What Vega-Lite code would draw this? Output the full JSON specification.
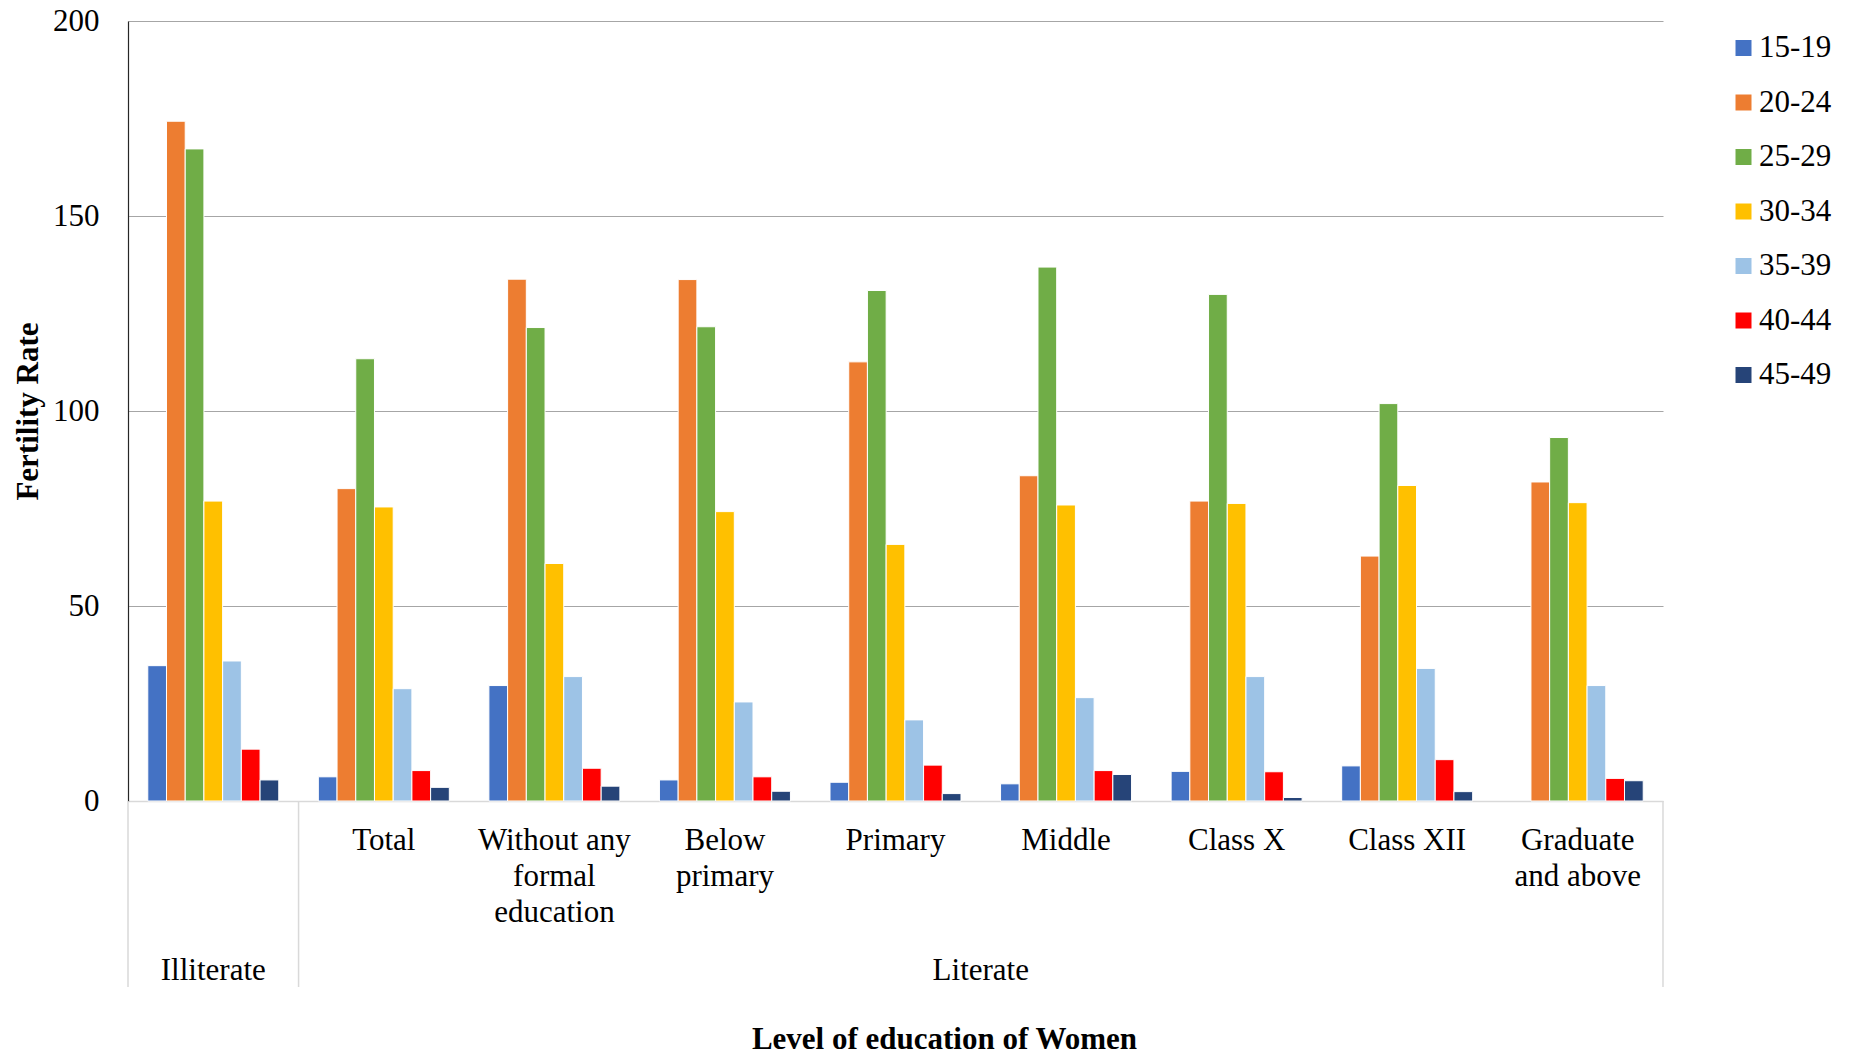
{
  "$schema": "https://vega.github.io/schema/vega-lite/v6.json",
  "width": 1535,
  "height": 780,
  "autosize": {"type": "none"},
  "padding": {"left": 128, "top": 21, "right": 192, "bottom": 253},
  "background": "white",
  "config": {
    "view": {"stroke": null},
    "font": "Liberation Serif",
    "legend": {"labelFont": "Liberation Serif", "labelFontSize": 31, "labelColor": "black"},
    "axis": {"labelFont": "Liberation Serif", "titleFont": "Liberation Serif"}
  },
  "layer": [
    {
      "data": {
        "values": [
          {"edu": "Illiterate", "age": "15-19", "rate": 34.7},
          {"edu": "Illiterate", "age": "20-24", "rate": 174.3},
          {"edu": "Illiterate", "age": "25-29", "rate": 167.2},
          {"edu": "Illiterate", "age": "30-34", "rate": 76.9},
          {"edu": "Illiterate", "age": "35-39", "rate": 35.9},
          {"edu": "Illiterate", "age": "40-44", "rate": 13.3},
          {"edu": "Illiterate", "age": "45-49", "rate": 5.4},
          {"edu": "Total", "age": "15-19", "rate": 6.2},
          {"edu": "Total", "age": "20-24", "rate": 80.1},
          {"edu": "Total", "age": "25-29", "rate": 113.4},
          {"edu": "Total", "age": "30-34", "rate": 75.4},
          {"edu": "Total", "age": "35-39", "rate": 28.8},
          {"edu": "Total", "age": "40-44", "rate": 7.8},
          {"edu": "Total", "age": "45-49", "rate": 3.5},
          {"edu": "Without any formal education", "age": "15-19", "rate": 29.6},
          {"edu": "Without any formal education", "age": "20-24", "rate": 133.8},
          {"edu": "Without any formal education", "age": "25-29", "rate": 121.4},
          {"edu": "Without any formal education", "age": "30-34", "rate": 60.9},
          {"edu": "Without any formal education", "age": "35-39", "rate": 31.9},
          {"edu": "Without any formal education", "age": "40-44", "rate": 8.4},
          {"edu": "Without any formal education", "age": "45-49", "rate": 3.8},
          {"edu": "Below primary", "age": "15-19", "rate": 5.4},
          {"edu": "Below primary", "age": "20-24", "rate": 133.7},
          {"edu": "Below primary", "age": "25-29", "rate": 121.6},
          {"edu": "Below primary", "age": "30-34", "rate": 74.2},
          {"edu": "Below primary", "age": "35-39", "rate": 25.4},
          {"edu": "Below primary", "age": "40-44", "rate": 6.2},
          {"edu": "Below primary", "age": "45-49", "rate": 2.5},
          {"edu": "Primary", "age": "15-19", "rate": 4.8},
          {"edu": "Primary", "age": "20-24", "rate": 112.6},
          {"edu": "Primary", "age": "25-29", "rate": 130.9},
          {"edu": "Primary", "age": "30-34", "rate": 65.8},
          {"edu": "Primary", "age": "35-39", "rate": 20.8},
          {"edu": "Primary", "age": "40-44", "rate": 9.2},
          {"edu": "Primary", "age": "45-49", "rate": 1.9},
          {"edu": "Middle", "age": "15-19", "rate": 4.4},
          {"edu": "Middle", "age": "20-24", "rate": 83.4},
          {"edu": "Middle", "age": "25-29", "rate": 136.9},
          {"edu": "Middle", "age": "30-34", "rate": 75.9},
          {"edu": "Middle", "age": "35-39", "rate": 26.5},
          {"edu": "Middle", "age": "40-44", "rate": 7.8},
          {"edu": "Middle", "age": "45-49", "rate": 6.8},
          {"edu": "Class X", "age": "15-19", "rate": 7.6},
          {"edu": "Class X", "age": "20-24", "rate": 76.9},
          {"edu": "Class X", "age": "25-29", "rate": 129.9},
          {"edu": "Class X", "age": "30-34", "rate": 76.3},
          {"edu": "Class X", "age": "35-39", "rate": 31.9},
          {"edu": "Class X", "age": "40-44", "rate": 7.5},
          {"edu": "Class X", "age": "45-49", "rate": 0.9},
          {"edu": "Class XII", "age": "15-19", "rate": 9.0},
          {"edu": "Class XII", "age": "20-24", "rate": 62.8},
          {"edu": "Class XII", "age": "25-29", "rate": 101.9},
          {"edu": "Class XII", "age": "30-34", "rate": 80.9},
          {"edu": "Class XII", "age": "35-39", "rate": 34.0},
          {"edu": "Class XII", "age": "40-44", "rate": 10.6},
          {"edu": "Class XII", "age": "45-49", "rate": 2.4},
          {"edu": "Graduate and above", "age": "20-24", "rate": 81.8},
          {"edu": "Graduate and above", "age": "25-29", "rate": 93.2},
          {"edu": "Graduate and above", "age": "30-34", "rate": 76.5},
          {"edu": "Graduate and above", "age": "35-39", "rate": 29.6},
          {"edu": "Graduate and above", "age": "40-44", "rate": 5.8},
          {"edu": "Graduate and above", "age": "45-49", "rate": 5.2}
        ]
      },
      "mark": {"type": "bar", "stroke": "white", "strokeWidth": 1},
      "encoding": {
        "x": {
          "field": "edu",
          "type": "nominal",
          "sort": ["Illiterate", "Total", "Without any formal education", "Below primary", "Primary", "Middle", "Class X", "Class XII", "Graduate and above"],
          "scale": {"paddingInner": 0.232, "paddingOuter": 0.116},
          "axis": {
            "title": "Level of education of Women",
            "labelExpr": "datum.value == 'Illiterate' ? '' : datum.value == 'Without any formal education' ? ['Without any', 'formal', 'education'] : datum.value == 'Below primary' ? ['Below', 'primary'] : datum.value == 'Graduate and above' ? ['Graduate', 'and above'] : datum.value",
            "labelAngle": 0,
            "labelFont": "Liberation Serif",
            "labelFontSize": 31,
            "labelColor": "black",
            "labelBaseline": "top",
            "labelPadding": 24.5,
            "labelLineHeight": 36,
            "labelLimit": 0,
            "labelOverlap": false,
            "ticks": false,
            "domainColor": "#d9d9d9",
            "domainWidth": 1.5,
            "titleFont": "Liberation Serif",
            "titleFontSize": 31,
            "titleFontWeight": "bold",
            "titleColor": "black",
            "titleX": 816,
            "titleY": 247,
            "titleAlign": "center",
            "titleBaseline": "alphabetic"
          }
        },
        "xOffset": {
          "field": "age",
          "type": "nominal",
          "scale": {"paddingInner": 0, "paddingOuter": 0}
        },
        "y": {
          "field": "rate",
          "type": "quantitative",
          "scale": {"domain": [0, 200], "nice": false},
          "axis": {
            "title": "Fertility Rate",
            "values": [0, 50, 100, 150, 200],
            "grid": true,
            "gridColor": {"condition": {"test": "datum.value === 0", "value": "#d9d9d9"}, "value": "#a6a6a6"},
            "gridWidth": 1.2,
            "domain": true,
            "domainColor": "#262626",
            "domainWidth": 1.2,
            "ticks": false,
            "labelFont": "Liberation Serif",
            "labelFontSize": 31,
            "labelColor": "black",
            "labelPadding": 29,
            "labelBaseline": "middle",
            "titleFont": "Liberation Serif",
            "titleFontSize": 31,
            "titleFontWeight": "bold",
            "titleColor": "black",
            "titleAngle": -90,
            "titleX": -90.7,
            "titleY": 390,
            "titleAlign": "center",
            "titleBaseline": "alphabetic"
          }
        },
        "color": {
          "field": "age",
          "type": "nominal",
          "scale": {
            "domain": ["15-19", "20-24", "25-29", "30-34", "35-39", "40-44", "45-49"],
            "range": ["#4472C4", "#ED7D31", "#70AD47", "#FFC000", "#9DC3E6", "#FF0000", "#264478"]
          },
          "legend": {
            "title": null,
            "orient": "none",
            "legendX": 1600,
            "legendY": 11.5,
            "direction": "vertical",
            "symbolType": "square",
            "symbolSize": 256,
            "symbolStrokeWidth": 0,
            "symbolOpacity": 1,
            "labelFont": "Liberation Serif",
            "labelFontSize": 31,
            "labelColor": "black",
            "labelOffset": 0,
            "labelBaseline": "middle",
            "rowPadding": 22.5,
            "padding": 0
          }
        }
      }
    },
    {
      "data": {"values": [{"edu": "Illiterate"}, {"edu": "Total"}]},
      "mark": {"type": "rule", "color": "#d9d9d9", "strokeWidth": 1.5},
      "encoding": {
        "x": {"field": "edu", "type": "nominal", "bandPosition": -0.151, "sort": ["Illiterate", "Total", "Without any formal education", "Below primary", "Primary", "Middle", "Class X", "Class XII", "Graduate and above"]},
        "y": {"datum": 0, "type": "quantitative", "scale": {"domain": [0, 200], "nice": false}},
        "y2": {"datum": -47.7}
      }
    },
    {
      "data": {"values": [{"edu": "Graduate and above"}]},
      "mark": {"type": "rule", "color": "#d9d9d9", "strokeWidth": 1.5},
      "encoding": {
        "x": {"field": "edu", "type": "nominal", "bandPosition": 1.151, "sort": ["Illiterate", "Total", "Without any formal education", "Below primary", "Primary", "Middle", "Class X", "Class XII", "Graduate and above"]},
        "y": {"datum": 0, "type": "quantitative", "scale": {"domain": [0, 200], "nice": false}},
        "y2": {"datum": -47.7}
      }
    },
    {
      "data": {"values": [{"edu": "Illiterate", "group": "Illiterate"}]},
      "mark": {"type": "text", "font": "Liberation Serif", "fontSize": 31, "color": "black", "baseline": "alphabetic", "align": "center"},
      "encoding": {
        "x": {"field": "edu", "type": "nominal", "bandPosition": 0.5, "sort": ["Illiterate", "Total", "Without any formal education", "Below primary", "Primary", "Middle", "Class X", "Class XII", "Graduate and above"]},
        "y": {"datum": -45.9, "type": "quantitative", "scale": {"domain": [0, 200], "nice": false}},
        "text": {"field": "group"}
      }
    },
    {
      "data": {"values": [{"edu": "Middle", "group": "Literate"}]},
      "mark": {"type": "text", "font": "Liberation Serif", "fontSize": 31, "color": "black", "baseline": "alphabetic", "align": "center"},
      "encoding": {
        "x": {"field": "edu", "type": "nominal", "bandPosition": -0.151, "sort": ["Illiterate", "Total", "Without any formal education", "Below primary", "Primary", "Middle", "Class X", "Class XII", "Graduate and above"]},
        "y": {"datum": -45.9, "type": "quantitative", "scale": {"domain": [0, 200], "nice": false}},
        "text": {"field": "group"}
      }
    }
  ]
}
